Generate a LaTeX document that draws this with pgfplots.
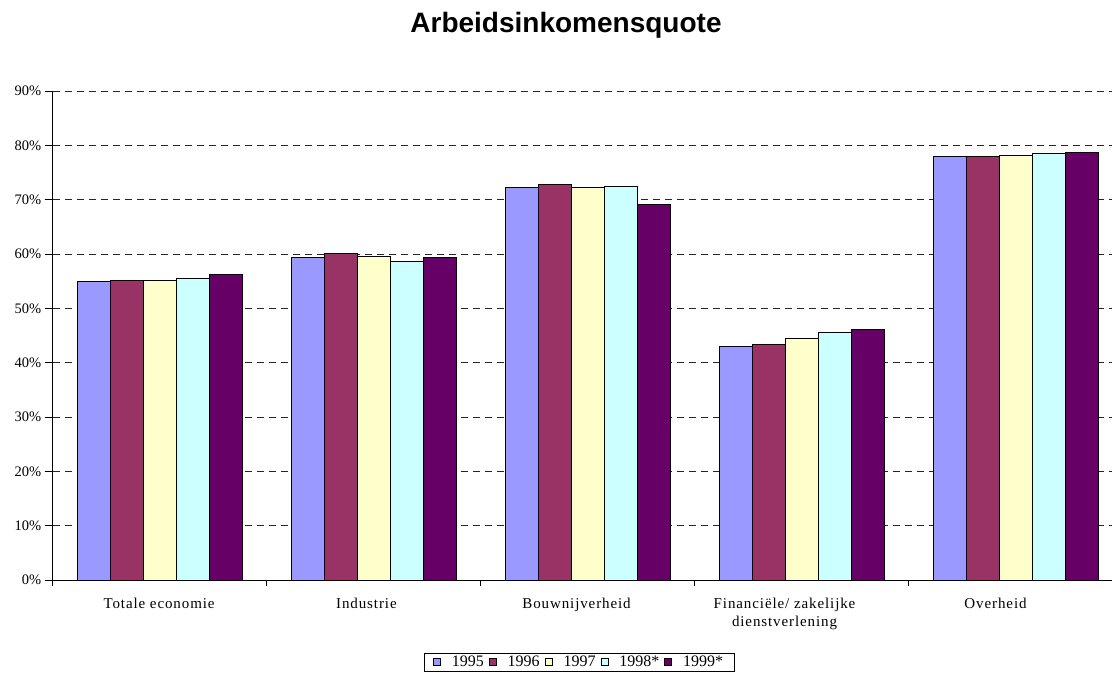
\documentclass[border=0pt]{standalone}
\usepackage{pgfplots}
\pgfplotsset{compat=1.18}
\usepackage{fontspec}
\setmainfont{Liberation Serif}
\newfontfamily\titlefont{Liberation Sans}
\newfontfamily\spacedfont[LetterSpace=6]{Liberation Serif}
\definecolor{c95}{HTML}{9999FF}
\definecolor{c96}{HTML}{993366}
\definecolor{c97}{HTML}{FFFFCC}
\definecolor{c98}{HTML}{CCFFFF}
\definecolor{c99}{HTML}{660066}
\begin{document}
\begin{tikzpicture}[x=1pt,y=1pt]
\begin{axis}[
  at={(52.7pt,95pt)}, anchor=south west,
  scale only axis, width=1070pt, height=489pt,
  ybar=0pt, bar width=0.154,
  xmin=-0.5, xmax=4.5, ymin=0, ymax=90,
  axis lines*=left,
  axis line style={black, line width=0.9pt},
  tick align=outside,
  major tick length=8pt,
  minor tick length=6pt,
  xtick={-0.003,0.966,1.948,2.920,3.906},
  xticklabels={Totale economie, Industrie, Bouwnijverheid, {Financiële/ zakelijke\\dienstverlening}, Overheid},
  major x tick style={draw=none},
  minor xtick={-0.5,0.5,1.5,2.5,3.5,4.5},
  minor x tick style={black, line width=0.8pt},
  xticklabel style={font=\spacedfont\fontsize{15}{18}\selectfont, align=center, anchor=north, yshift=-7pt},
  ytick={0,10,...,90},
  yticklabel={\pgfmathprintnumber[assume math mode=true]{\tick}\%},
  yticklabel style={font=\fontsize{14.5}{17}\selectfont},
  y tick style={black, line width=0.8pt},
  ymajorgrids,
  major grid style={black!85, line width=0.8pt, dash pattern=on 7pt off 5pt},
  extra y ticks={90},
  extra y tick labels={},
  extra y tick style={grid style={solid, black, line width=0.8pt}},
  legend columns=5,
  legend style={at={(0.492,-0.149)}, anchor=north, draw=black, line width=0.8pt,
    font=\fontsize{16}{18}\selectfont, inner xsep=9pt, inner ysep=1pt,
    /tikz/every odd column/.append style={column sep=9pt},
    /tikz/every even column/.append style={column sep=3pt}},
  legend image code/.code={\draw[#1, draw=black, line width=0.8pt] (0pt,-3.5pt) rectangle (7pt,3.5pt);},
  every axis plot/.append style={draw=black, line width=0.9pt},
]
\addplot[fill=c95] coordinates {(0,54.9) (1,59.4) (2,72.3) (3,42.9) (4,78.0)};
\addplot[fill=c96] coordinates {(0,55.1) (1,60.1) (2,72.8) (3,43.4) (4,78.0)};
\addplot[fill=c97] coordinates {(0,55.2) (1,59.5) (2,72.3) (3,44.5) (4,78.2)};
\addplot[fill=c98] coordinates {(0,55.5) (1,58.7) (2,72.4) (3,45.5) (4,78.5)};
\addplot[fill=c99] coordinates {(0,56.2) (1,59.3) (2,69.2) (3,46.1) (4,78.7)};
\legend{1995,1996,1997,1998*,1999*}
\end{axis}
\node[anchor=base, font=\titlefont\bfseries\fontsize{28}{32}\selectfont] at (566pt,642pt) {Arbeidsinkomensquote};
\pgfresetboundingbox
\path[use as bounding box] (0,0) rectangle (1112pt,675pt);
\end{tikzpicture}
\end{document}
